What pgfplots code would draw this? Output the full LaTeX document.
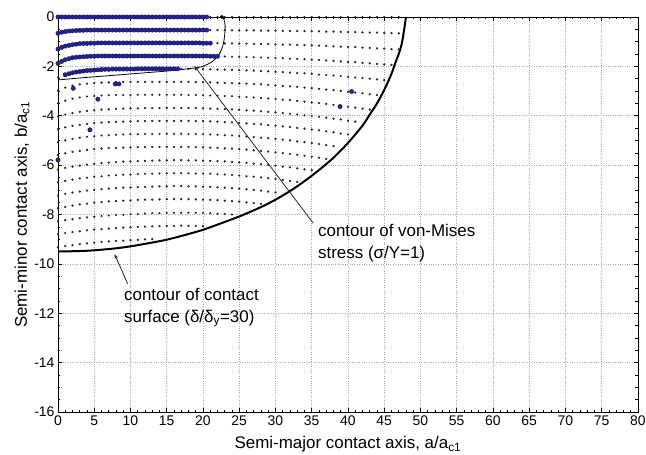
\documentclass[border=0pt]{standalone}
\usepackage{fontspec}
\setmainfont{Liberation Sans}
\usepackage{pgfplots}
\pgfplotsset{compat=1.18}
\usetikzlibrary{arrows.meta}
\definecolor{bluedot}{RGB}{35,35,150}
\begin{document}
\begin{tikzpicture}
\begin{axis}[
  scale only axis, width=580bp, height=395bp,
  xmin=0, xmax=80, ymin=-16, ymax=0,
  xtick={0,5,...,80}, ytick={-16,-14,...,0},
  minor x tick num=4, minor y tick num=3,
  tick align=inside,
  major tick length=4bp, minor tick length=2.5bp,
  tick style={black, line width=0.5pt},
  axis line style={black, line width=0.6pt},
  grid=major, major grid style={dotted, black!35, line width=0.5pt},
  /pgf/number format/assume math mode=true,
  tick label style={font=\fontsize{14}{16}\selectfont},
  label style={font=\fontsize{17}{20}\selectfont},
  xlabel={Semi-major contact axis, a/a\textsubscript{c1}},
  ylabel={Semi-minor contact axis, b/a\textsubscript{c1}},
  xlabel style={at={(axis description cs:0.5,-0.082)}, anchor=center},
  ylabel style={at={(axis description cs:-0.062,0.5)}, anchor=center},
  every axis plot/.append style={line join=round},
]
% black mesh dots
\addplot[only marks, mark=*, mark size=0.95pt, mark options={fill=black!85, draw=black!85}] coordinates {
(0,0)(1,0)(2,0)(3,0)(4,0)(5,0)(6,0)(7,0)(8,0)(9,0)(10,0)(11,0)(12,0)(13,0)(14,0)(15,0)(16,0)(17,0)(18,0)(19,0)(20,0)(21,0)(22,0)(23,0)(24,0)(25,0)(26,0)(27,0)(28,0)(29,0)(30,0)(31,0)(32,0)(33,0)(34,0)(35,0)(36,0)(37,0)(38,0)(39,0)(40,0)(41,0)(42,0)(43,0)(44,0)(45,0)(46,0)(47,0)
(0,-0.66)(1,-0.59)(2,-0.56)(3,-0.54)(4,-0.53)(5,-0.53)(6,-0.53)(7,-0.53)(8,-0.53)(9,-0.53)(10,-0.53)(11,-0.53)(12,-0.53)(13,-0.53)(14,-0.53)(15,-0.53)(16,-0.53)(17,-0.53)(18,-0.53)(19,-0.53)(20,-0.53)(21,-0.53)(22,-0.53)(23,-0.53)(24,-0.54)(25,-0.54)(26,-0.54)(27,-0.54)(28,-0.55)(29,-0.55)(30,-0.55)(31,-0.56)(32,-0.56)(33,-0.57)(34,-0.57)(35,-0.58)(36,-0.58)(37,-0.59)(38,-0.59)(39,-0.60)(40,-0.61)(41,-0.61)(42,-0.62)(43,-0.63)(44,-0.63)(45,-0.64)(46,-0.65)(47,-0.66)
(0,-1.30)(1,-1.18)(2,-1.12)(3,-1.08)(4,-1.07)(5,-1.06)(6,-1.05)(7,-1.05)(8,-1.05)(9,-1.05)(10,-1.05)(11,-1.05)(12,-1.05)(13,-1.05)(14,-1.05)(15,-1.05)(16,-1.05)(17,-1.05)(18,-1.05)(19,-1.05)(20,-1.06)(21,-1.06)(22,-1.06)(23,-1.07)(24,-1.07)(25,-1.08)(26,-1.08)(27,-1.09)(28,-1.09)(29,-1.10)(30,-1.11)(31,-1.12)(32,-1.12)(33,-1.13)(34,-1.14)(35,-1.15)(36,-1.16)(37,-1.17)(38,-1.19)(39,-1.20)(40,-1.21)(41,-1.22)(42,-1.24)(43,-1.25)(44,-1.27)(45,-1.28)(46,-1.30)(47,-1.31)
(0,-1.88)(1,-1.73)(2,-1.65)(3,-1.62)(4,-1.60)(5,-1.59)(6,-1.58)(7,-1.58)(8,-1.58)(9,-1.58)(10,-1.58)(11,-1.58)(12,-1.58)(13,-1.58)(14,-1.58)(15,-1.58)(16,-1.58)(17,-1.58)(18,-1.58)(19,-1.58)(20,-1.58)(21,-1.59)(22,-1.59)(23,-1.60)(24,-1.61)(25,-1.61)(26,-1.62)(27,-1.63)(28,-1.64)(29,-1.65)(30,-1.66)(31,-1.67)(32,-1.69)(33,-1.70)(34,-1.71)(35,-1.73)(36,-1.74)(37,-1.76)(38,-1.78)(39,-1.80)(40,-1.82)(41,-1.83)(42,-1.86)(43,-1.88)(44,-1.90)(45,-1.92)(46,-1.94)
(0,-2.45)(1,-2.34)(2,-2.26)(3,-2.21)(4,-2.17)(5,-2.15)(6,-2.13)(7,-2.12)(8,-2.11)(9,-2.11)(10,-2.11)(11,-2.10)(12,-2.10)(13,-2.10)(14,-2.10)(15,-2.10)(16,-2.10)(17,-2.10)(18,-2.10)(19,-2.11)(20,-2.11)(21,-2.12)(22,-2.13)(23,-2.13)(24,-2.14)(25,-2.15)(26,-2.16)(27,-2.17)(28,-2.19)(29,-2.20)(30,-2.22)(31,-2.23)(32,-2.25)(33,-2.27)(34,-2.28)(35,-2.30)(36,-2.33)(37,-2.35)(38,-2.37)(39,-2.39)(40,-2.42)(41,-2.45)(42,-2.47)(43,-2.50)(44,-2.53)(45,-2.56)
(0,-2.98)(1,-2.86)(2,-2.78)(3,-2.73)(4,-2.70)(5,-2.67)(6,-2.66)(7,-2.65)(8,-2.64)(9,-2.63)(10,-2.63)(11,-2.63)(12,-2.63)(13,-2.63)(14,-2.63)(15,-2.63)(16,-2.63)(17,-2.63)(18,-2.63)(19,-2.64)(20,-2.64)(21,-2.65)(22,-2.66)(23,-2.67)(24,-2.68)(25,-2.69)(26,-2.70)(27,-2.72)(28,-2.73)(29,-2.75)(30,-2.77)(31,-2.79)(32,-2.81)(33,-2.83)(34,-2.86)(35,-2.88)(36,-2.91)(37,-2.94)(38,-2.96)(39,-2.99)(40,-3.03)(41,-3.06)(42,-3.09)(43,-3.13)(44,-3.16)
(0,-3.50)(1,-3.39)(2,-3.31)(3,-3.26)(4,-3.22)(5,-3.20)(6,-3.18)(7,-3.17)(8,-3.16)(9,-3.16)(10,-3.16)(11,-3.15)(12,-3.15)(13,-3.15)(14,-3.15)(15,-3.15)(16,-3.15)(17,-3.15)(18,-3.16)(19,-3.16)(20,-3.17)(21,-3.18)(22,-3.19)(23,-3.20)(24,-3.21)(25,-3.23)(26,-3.24)(27,-3.26)(28,-3.28)(29,-3.30)(30,-3.32)(31,-3.35)(32,-3.37)(33,-3.40)(34,-3.43)(35,-3.46)(36,-3.49)(37,-3.52)(38,-3.56)(39,-3.59)(40,-3.63)(41,-3.67)(42,-3.71)(43,-3.75)
(0,-4.03)(1,-3.95)(2,-3.89)(3,-3.84)(4,-3.80)(5,-3.78)(6,-3.75)(7,-3.74)(8,-3.72)(9,-3.71)(10,-3.70)(11,-3.70)(12,-3.69)(13,-3.69)(14,-3.69)(15,-3.68)(16,-3.68)(17,-3.68)(18,-3.69)(19,-3.69)(20,-3.70)(21,-3.71)(22,-3.72)(23,-3.73)(24,-3.74)(25,-3.76)(26,-3.78)(27,-3.79)(28,-3.82)(29,-3.84)(30,-3.86)(31,-3.89)(32,-3.92)(33,-3.95)(34,-3.98)(35,-4.01)(36,-4.04)(37,-4.08)(38,-4.12)(39,-4.15)(40,-4.20)(41,-4.24)
(0,-4.55)(1,-4.47)(2,-4.41)(3,-4.37)(4,-4.33)(5,-4.30)(6,-4.28)(7,-4.26)(8,-4.25)(9,-4.24)(10,-4.23)(11,-4.22)(12,-4.22)(13,-4.21)(14,-4.21)(15,-4.21)(16,-4.21)(17,-4.21)(18,-4.21)(19,-4.22)(20,-4.22)(21,-4.23)(22,-4.24)(23,-4.26)(24,-4.27)(25,-4.29)(26,-4.31)(27,-4.33)(28,-4.35)(29,-4.38)(30,-4.40)(31,-4.43)(32,-4.46)(33,-4.49)(34,-4.52)(35,-4.56)(36,-4.59)(37,-4.63)(38,-4.67)(39,-4.72)(40,-4.76)
(0,-5.08)(1,-5.00)(2,-4.94)(3,-4.89)(4,-4.85)(5,-4.83)(6,-4.80)(7,-4.79)(8,-4.77)(9,-4.76)(10,-4.75)(11,-4.75)(12,-4.74)(13,-4.74)(14,-4.74)(15,-4.73)(16,-4.73)(17,-4.73)(18,-4.74)(19,-4.74)(20,-4.75)(21,-4.76)(22,-4.77)(23,-4.79)(24,-4.80)(25,-4.82)(26,-4.84)(27,-4.86)(28,-4.89)(29,-4.91)(30,-4.94)(31,-4.97)(32,-5.00)(33,-5.04)(34,-5.07)(35,-5.11)(36,-5.15)(37,-5.19)(38,-5.23)
(0,-5.60)(1,-5.52)(2,-5.46)(3,-5.42)(4,-5.38)(5,-5.35)(6,-5.33)(7,-5.31)(8,-5.30)(9,-5.29)(10,-5.28)(11,-5.27)(12,-5.27)(13,-5.26)(14,-5.26)(15,-5.26)(16,-5.26)(17,-5.26)(18,-5.26)(19,-5.27)(20,-5.28)(21,-5.29)(22,-5.30)(23,-5.32)(24,-5.33)(25,-5.35)(26,-5.37)(27,-5.40)(28,-5.42)(29,-5.45)(30,-5.48)(31,-5.51)(32,-5.55)(33,-5.58)(34,-5.62)(35,-5.66)(36,-5.70)(37,-5.75)
(0,-6.18)(1,-6.11)(2,-6.06)(3,-6.02)(4,-5.98)(5,-5.95)(6,-5.92)(7,-5.90)(8,-5.88)(9,-5.86)(10,-5.85)(11,-5.84)(12,-5.83)(13,-5.82)(14,-5.81)(15,-5.81)(16,-5.80)(17,-5.80)(18,-5.81)(19,-5.81)(20,-5.82)(21,-5.83)(22,-5.84)(23,-5.85)(24,-5.87)(25,-5.89)(26,-5.91)(27,-5.94)(28,-5.96)(29,-5.99)(30,-6.02)(31,-6.06)(32,-6.09)(33,-6.13)(34,-6.17)(35,-6.21)
(0,-6.70)(1,-6.64)(2,-6.59)(3,-6.54)(4,-6.51)(5,-6.47)(6,-6.45)(7,-6.42)(8,-6.41)(9,-6.39)(10,-6.38)(11,-6.36)(12,-6.35)(13,-6.35)(14,-6.34)(15,-6.33)(16,-6.33)(17,-6.33)(18,-6.33)(19,-6.34)(20,-6.34)(21,-6.35)(22,-6.37)(23,-6.38)(24,-6.40)(25,-6.42)(26,-6.45)(27,-6.47)(28,-6.50)(29,-6.53)(30,-6.56)(31,-6.60)(32,-6.64)(33,-6.68)
(0,-7.23)(1,-7.16)(2,-7.11)(3,-7.07)(4,-7.03)(5,-7.00)(6,-6.97)(7,-6.95)(8,-6.93)(9,-6.91)(10,-6.90)(11,-6.89)(12,-6.88)(13,-6.87)(14,-6.86)(15,-6.86)(16,-6.85)(17,-6.85)(18,-6.86)(19,-6.86)(20,-6.87)(21,-6.88)(22,-6.90)(23,-6.91)(24,-6.93)(25,-6.95)(26,-6.98)(27,-7.00)(28,-7.03)(29,-7.07)(30,-7.10)
(0,-7.75)(1,-7.69)(2,-7.64)(3,-7.59)(4,-7.56)(5,-7.52)(6,-7.50)(7,-7.47)(8,-7.46)(9,-7.44)(10,-7.43)(11,-7.41)(12,-7.40)(13,-7.40)(14,-7.39)(15,-7.38)(16,-7.38)(17,-7.38)(18,-7.38)(19,-7.39)(20,-7.40)(21,-7.41)(22,-7.42)(23,-7.44)(24,-7.46)(25,-7.48)(26,-7.51)(27,-7.54)(28,-7.57)
(0,-8.28)(1,-8.23)(2,-8.19)(3,-8.15)(4,-8.12)(5,-8.09)(6,-8.06)(7,-8.04)(8,-8.02)(9,-8.01)(10,-7.99)(11,-7.98)(12,-7.96)(13,-7.95)(14,-7.95)(15,-7.94)(16,-7.93)(17,-7.93)(18,-7.93)(19,-7.93)(20,-7.94)(21,-7.95)(22,-7.97)(23,-7.98)(24,-8.00)
(0,-8.80)(1,-8.75)(2,-8.71)(3,-8.68)(4,-8.64)(5,-8.61)(6,-8.59)(7,-8.57)(8,-8.55)(9,-8.53)(10,-8.52)(11,-8.50)(12,-8.49)(13,-8.48)(14,-8.47)(15,-8.46)(16,-8.46)(17,-8.45)(18,-8.46)(19,-8.46)(20,-8.47)
(0,-9.33)(1,-9.28)(2,-9.24)(3,-9.20)(4,-9.17)(5,-9.14)(6,-9.11)(7,-9.09)(8,-9.07)(9,-9.06)(10,-9.04)(11,-9.03)(12,-9.01)(13,-9.00)
};
% blue (yielded) points
\addplot[only marks, mark=*, mark size=2.2pt, mark options={fill=bluedot, draw=bluedot!60!black}] coordinates {
(0,0)(0.5,0)(1,0)(1.5,0)(2,0)(2.5,0)(3,0)(3.5,0)(4,0)(4.5,0)(5,0)(5.5,0)(6,0)(6.5,0)(7,0)(7.5,0)(8,0)(8.5,0)(9,0)(9.5,0)(10,0)(10.5,0)(11,0)(11.5,0)(12,0)(12.5,0)(13,0)(13.5,0)(14,0)(14.5,0)(15,0)(15.5,0)(16,0)(16.5,0)(17,0)(17.5,0)(18,0)(18.5,0)(19,0)(19.5,0)(20,0)(20.5,0)
(0,-0.66)(0.5,-0.62)(1,-0.59)(1.5,-0.57)(2,-0.56)(2.5,-0.55)(3,-0.54)(3.5,-0.54)(4,-0.53)(4.5,-0.53)(5,-0.53)(5.5,-0.53)(6,-0.53)(6.5,-0.53)(7,-0.53)(7.5,-0.53)(8,-0.53)(8.5,-0.53)(9,-0.53)(9.5,-0.53)(10,-0.53)(10.5,-0.53)(11,-0.53)(11.5,-0.53)(12,-0.53)(12.5,-0.53)(13,-0.53)(13.5,-0.53)(14,-0.53)(14.5,-0.53)(15,-0.53)(15.5,-0.53)(16,-0.53)(16.5,-0.53)(17,-0.53)(17.5,-0.53)(18,-0.53)(18.5,-0.53)(19,-0.53)(19.5,-0.53)(20,-0.53)(20.5,-0.53)
(0,-1.30)(0.5,-1.23)(1,-1.18)(1.5,-1.15)(2,-1.12)(2.5,-1.10)(3,-1.08)(3.5,-1.07)(4,-1.07)(4.5,-1.06)(5,-1.06)(5.5,-1.05)(6,-1.05)(6.5,-1.05)(7,-1.05)(7.5,-1.05)(8,-1.05)(8.5,-1.05)(9,-1.05)(9.5,-1.05)(10,-1.05)(10.5,-1.05)(11,-1.05)(11.5,-1.05)(12,-1.05)(12.5,-1.05)(13,-1.05)(13.5,-1.05)(14,-1.05)(14.5,-1.05)(15,-1.05)(15.5,-1.05)(16,-1.05)(16.5,-1.05)(17,-1.05)(17.5,-1.05)(18,-1.05)(18.5,-1.05)(19,-1.05)(19.5,-1.05)(20,-1.06)(20.5,-1.06)(21,-1.06)
(0,-1.88)(0.5,-1.80)(1,-1.73)(1.5,-1.69)(2,-1.65)(2.5,-1.63)(3,-1.62)(3.5,-1.61)(4,-1.60)(4.5,-1.59)(5,-1.59)(5.5,-1.58)(6,-1.58)(6.5,-1.58)(7,-1.58)(7.5,-1.58)(8,-1.58)(8.5,-1.58)(9,-1.58)(9.5,-1.58)(10,-1.58)(10.5,-1.58)(11,-1.58)(11.5,-1.58)(12,-1.58)(12.5,-1.58)(13,-1.58)(13.5,-1.58)(14,-1.58)(14.5,-1.58)(15,-1.58)(15.5,-1.58)(16,-1.58)(16.5,-1.58)(17,-1.58)(17.5,-1.58)(18,-1.58)(18.5,-1.58)(19,-1.58)(19.5,-1.58)(20,-1.58)(20.5,-1.58)(21,-1.59)(21.5,-1.59)(22,-1.59)
(1,-2.34)(1.5,-2.30)(2,-2.26)(2.5,-2.23)(3,-2.21)(3.5,-2.19)(4,-2.17)(4.5,-2.16)(5,-2.15)(5.5,-2.14)(6,-2.13)(6.5,-2.12)(7,-2.12)(7.5,-2.11)(8,-2.11)(8.5,-2.11)(9,-2.11)(9.5,-2.11)(10,-2.11)(10.5,-2.11)(11,-2.10)(11.5,-2.10)(12,-2.10)(12.5,-2.10)(13,-2.10)(13.5,-2.10)(14,-2.10)(14.5,-2.10)(15,-2.10)(15.5,-2.10)(16,-2.10)(16.5,-2.10)
(2.1,-2.89)(7.9,-2.71)(8.4,-2.71)(5.5,-3.33)(4.4,-4.57)(0,-5.79)(40.5,-3.02)(38.9,-3.63)
};
% larger black point at top of von-Mises contour
\addplot[only marks, mark=*, mark size=1.8pt, mark options={fill=black, draw=black}] coordinates {(22.6,0)};
% contour of von-Mises stress
\addplot[black, line width=0.8pt, smooth, tension=0.4, mark=none] coordinates {
(0,-2.55)(3,-2.47)(6,-2.40)(9,-2.33)(12,-2.26)(15,-2.19)(17,-2.13)(18.7,-2.07)(20,-2.0)(21.4,-1.78)(22.3,-1.48)(22.8,-1.1)(23.0,-0.7)(23.05,-0.35)(22.9,-0.1)(22.6,0)
};
% contour of contact surface
\addplot[black, line width=2pt, smooth, tension=0.5, mark=none] coordinates {
(0,-9.5)(3,-9.48)(5,-9.45)(8,-9.37)(10,-9.29)(12,-9.19)(15,-9.02)(18,-8.79)(20,-8.62)(22,-8.41)(25,-8.08)(28,-7.7)(30,-7.4)(32,-7.05)(34,-6.65)(36,-6.2)(38,-5.7)(40,-5.1)(42,-4.4)(43,-3.95)(44,-3.5)(45,-2.95)(46,-2.3)(46.6,-1.8)(47,-1.5)(47.4,-1.1)(47.7,-0.6)(47.9,-0.2)(48,0)
};
% leader lines
\draw[black!85, line width=0.8pt, -{Stealth[length=5pt,width=3.5pt]}] (axis cs:35.2,-8.35) -- (axis cs:18.8,-1.98);
\draw[black!85, line width=0.8pt, -{Stealth[length=5pt,width=3.5pt]}] (axis cs:9.6,-10.8) -- (axis cs:7.8,-9.6);
% annotation texts
\node[anchor=base west, inner sep=0pt, font=\fontsize{17}{20}\selectfont] at (axis cs:35.86,-8.89) {contour of von-Mises};
\node[anchor=base west, inner sep=0pt, font=\fontsize{17}{20}\selectfont] at (axis cs:35.86,-9.78) {stress (σ/Y=1)};
\node[anchor=base west, inner sep=0pt, font=\fontsize{17}{20}\selectfont] at (axis cs:9.1,-11.48) {contour of contact};
\node[anchor=base west, inner sep=0pt, font=\fontsize{17}{20}\selectfont] at (axis cs:9.1,-12.37) {surface (δ/δ\textsubscript{y}=30)};
\end{axis}
\pgfresetboundingbox
\path[use as bounding box] (-58bp,-43bp) rectangle (588bp,412bp);
\end{tikzpicture}
\end{document}
